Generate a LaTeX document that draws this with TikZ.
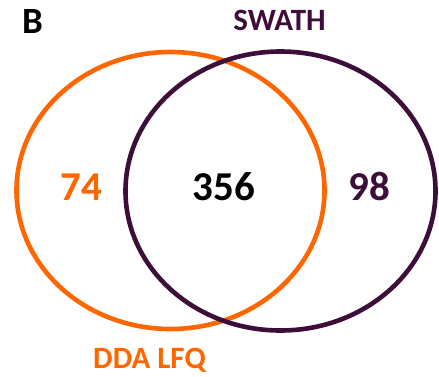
\documentclass[tikz,border=0pt]{standalone}
\usepackage{fontspec}
\setmainfont{Carlito}
\definecolor{ddaorange}{RGB}{255,102,0}
\definecolor{swathpurple}{RGB}{62,14,58}
\begin{document}
\begin{tikzpicture}[x=1pt,y=-1pt,
  ring/.style={line width=4.6pt},
  lbl/.style={font=\bfseries\fontsize{31}{31}\selectfont, anchor=base, inner sep=0pt},
  num/.style={font=\bfseries\fontsize{41}{41}\selectfont, anchor=base, inner sep=0pt}]
\useasboundingbox (0,0) rectangle (439,376);
\draw[ring, ddaorange] (170.5,190.5) ellipse [x radius=154pt, y radius=138.5pt];
\draw[ring, swathpurple] (280.5,191) ellipse [x radius=155pt, y radius=139.5pt];
\node[font=\bfseries\fontsize{37}{37}\selectfont, anchor=base, inner sep=0pt] (B) at (32.5,33) {B};
\node[lbl, swathpurple] (swath) at (279.5,30) {SWATH};
\node[lbl, ddaorange] (dda) at (149.5,368) {DDA LFQ};
\node[num, ddaorange] (n74) at (81,200) {74};
\node[num] (n356) at (224,200) {356};
\node[num, swathpurple] (n98) at (369,200) {98};
\end{tikzpicture}
\end{document}
